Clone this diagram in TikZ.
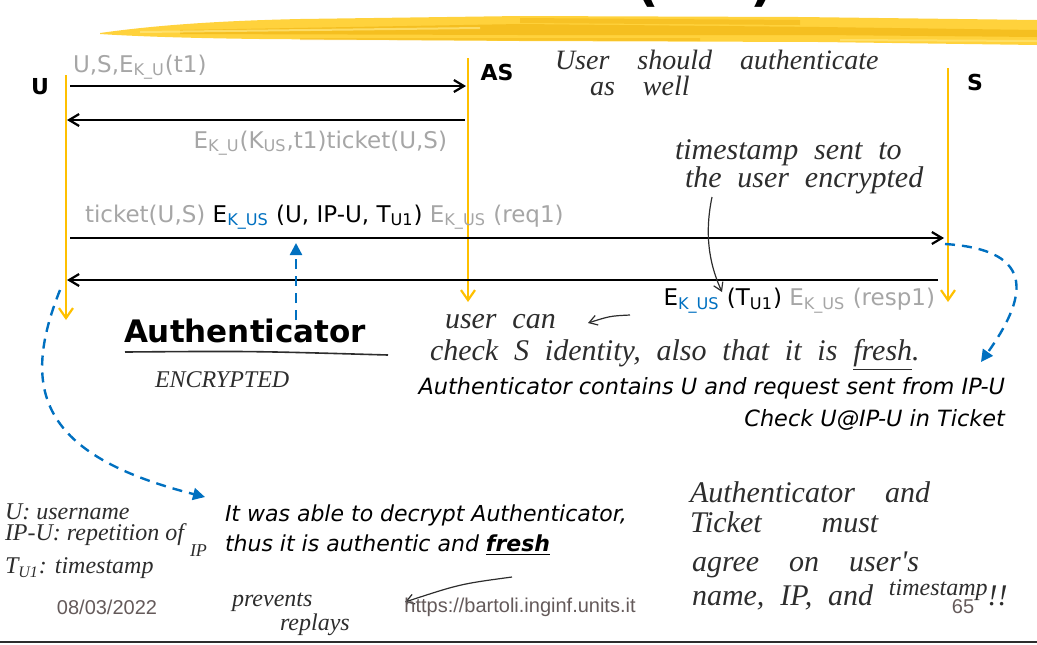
\documentclass[tikz,border=0pt]{standalone}
\usepackage{fontspec}
\setmainfont{DejaVu Sans}
\newfontfamily\hand{Liberation Serif}
\newfontfamily\footfont{Liberation Sans}
\usetikzlibrary{arrows.meta}

\definecolor{lifeyellow}{RGB}{255,192,0}
\definecolor{brushbase}{RGB}{255,210,60}
\definecolor{brushdark}{RGB}{238,176,10}
\definecolor{brushlight}{RGB}{255,232,130}
\definecolor{msggray}{RGB}{166,166,166}
\definecolor{keyblue}{RGB}{0,112,192}
\definecolor{ink}{RGB}{45,45,45}
\definecolor{footgray}{RGB}{100,90,90}

\newcommand\sbs[1]{\textsubscript{#1}}

\begin{document}
\begin{tikzpicture}[x=0.5pt,y=-0.5pt,
  every node/.style={inner sep=0pt, outer sep=0pt},
  lifeline/.style={draw=lifeyellow, line width=1.1pt, -{Straight Barb[length=5pt,width=7pt]}},
  msg/.style={draw=black, line width=1.1pt, -{Straight Barb[length=5pt,width=6pt]}},
  bluedash/.style={draw=keyblue, line width=1.2pt, dash pattern=on 5pt off 3.5pt, -{Triangle[length=6pt,width=6pt]}},
  inkarrow/.style={draw=ink, line width=0.6pt, -{Straight Barb[length=4pt,width=5pt]}},
  actor/.style={font=\bfseries\fontsize{11}{13}\selectfont},
  msglabel/.style={font=\fontsize{11.5}{14}\selectfont},
  note/.style={font=\itshape\fontsize{11.2}{14}\selectfont},
  handtext/.style={text=ink, font=\hand\itshape\fontsize{15}{18}\selectfont},
  smallhand/.style={text=ink, font=\hand\itshape\fontsize{12}{14}\selectfont},
  foot/.style={text=footgray, font=\footfont\fontsize{10}{12}\selectfont}]
\useasboundingbox (0,0) rectangle (1037,644);
\clip (0,0) rectangle (1037,644);

% title remnants above the brush stroke
\node[font=\bfseries\fontsize{26}{28}\selectfont, anchor=south] (lpar) at (647,7) {(};
\node[font=\bfseries\fontsize{26}{28}\selectfont, anchor=south] (rpar) at (762,7) {)};

% yellow brush stroke under the title
\fill[brushbase] (100,33) .. controls (150,26) and (210,21) .. (300,19) -- (520,16) -- (800,17) -- (1037,20)
  -- (1037,45) -- (820,42) -- (520,41) -- (260,39) .. controls (180,38) and (130,36) .. (100,34) -- cycle;
\fill[brushdark, opacity=0.55] (180,30) -- (520,24) -- (820,27) -- (1037,30) -- (1037,37) -- (820,35) -- (520,35) -- (180,34) -- cycle;
\fill[brushdark, opacity=0.45] (520,18) -- (800,20) -- (800,25) -- (520,23) -- cycle;
\fill[brushlight, opacity=0.7] (140,31) -- (480,27) -- (480,29) -- (140,33) -- cycle;
\fill[brushlight, opacity=0.6] (840,39) -- (1037,40) -- (1037,42) -- (840,41) -- cycle;
\fill[brushdark, opacity=0.4] (300,38) -- (700,38) -- (700,41) -- (300,40) -- cycle;

% actors
\node[actor] (U) at (40,87) {U};
\node[actor] (AS) at (497,72) {AS};
\node[actor] (S) at (975,82) {S};

% lifelines
\coordinate (U-top) at (66,75);   \coordinate (U-bot) at (66,320);
\coordinate (AS-top) at (468,58); \coordinate (AS-bot) at (468,302);
\coordinate (S-top) at (948,68);  \coordinate (S-bot) at (948,302);
\draw[lifeline] (U-top) -- (U-bot);
\draw[lifeline] (AS-top) -- (AS-bot);
\draw[lifeline] (S-top) -- (S-bot);

% messages
\coordinate (m1a) at (70,86);   \coordinate (m1b) at (466,86);
\coordinate (m2a) at (465,120); \coordinate (m2b) at (67,120);
\coordinate (m3a) at (70,238);  \coordinate (m3b) at (944,238);
\coordinate (m4a) at (938,280); \coordinate (m4b) at (67,280);
\draw[msg] (m1a) -- (m1b);
\draw[msg] (m2a) -- (m2b);
\draw[msg] (m3a) -- (m3b);
\draw[msg] (m4a) -- (m4b);

\node[msglabel, text=msggray, anchor=west] (l1) at (73,67) {U,S,E\sbs{K\_U}(t1)};
\node[msglabel, text=msggray, anchor=east] (l2) at (447,143) {E\sbs{K\_U}(K\sbs{US},t1)ticket(U,S)};
\node[msglabel, anchor=west] (l3) at (85,217)
  {{\color{msggray}ticket(U,S)} E\sbs{\color{keyblue}K\_US} (U, IP-U, T\sbs{U1}) {\color{msggray}E\sbs{K\_US} (req1)}};
\node[msglabel, anchor=east] (l4) at (935,301)
  {E\sbs{\color{keyblue}K\_US} (T\sbs{U1}) {\color{msggray}E\sbs{K\_US} (resp1)}};

% authenticator callout
\node[font=\bfseries\fontsize{15.5}{18}\selectfont, anchor=west] (auth) at (124,331) {Authenticator};
\coordinate (auth-foot) at (296,320);
\coordinate (auth-tip) at (296,243);
\draw[bluedash] (auth-foot) -- (auth-tip);
\coordinate (ul-a) at (125,352); \coordinate (ul-b) at (388,355);
\draw[ink, line width=0.8pt] (ul-a) .. controls (250,351) .. (ul-b);
\node[smallhand, anchor=west] (enc) at (155,380) {ENCRYPTED};

% curved dashed connectors
\coordinate (cU) at (60,290);
\coordinate (cU-end) at (205,497);
\draw[bluedash] (cU) .. controls (20,390) and (40,455) .. (cU-end);
\coordinate (cS) at (945,244);
\coordinate (cS-end) at (981,362);
\draw[bluedash] (cS) .. controls (1040,250) and (1025,300) .. (cS-end);

% notes in the sequence area
\node[handtext, anchor=west, font=\hand\itshape\fontsize{14}{16}\selectfont] (h1) at (555,60) {User\quad should\quad authenticate};
\node[handtext, anchor=west, font=\hand\itshape\fontsize{14}{16}\selectfont] (h2) at (590,86) {as\quad well};
\node[handtext, anchor=west] (h3) at (675,153) {timestamp\; sent\; to};
\node[handtext, anchor=west] (h4) at (685,180) {the\; user\; encrypted};
\coordinate (h4-foot) at (712,197);
\coordinate (h4-tip) at (722,292);
\draw[inkarrow] (h4-foot) .. controls (703,240) and (712,270) .. (h4-tip);

\node[handtext, anchor=west] (h5) at (445,322) {user\; can};
\coordinate (h5-from) at (630,315);
\coordinate (h5-to) at (588,323);
\draw[inkarrow] (h5-from) .. controls (610,316) .. (h5-to);
\node[handtext, anchor=west] (h6) at (430,355) {check\; S\; identity,\; also\; that\; it\; is\; \underline{fresh}.};

\node[note, anchor=east] (n1) at (1005,388) {Authenticator contains U and request sent from IP-U};
\node[note, anchor=east] (n2) at (1005,420) {Check U@IP-U in Ticket};

% lower notes
\node[smallhand, anchor=west] (g1) at (5,512) {U: username};
\node[smallhand, anchor=west] (g2) at (5,535) {IP-U: repetition of};
\node[smallhand, anchor=west, font=\hand\itshape\fontsize{9}{10}\selectfont] (g3) at (190,551) {IP};
\node[smallhand, anchor=west] (g4) at (5,568) {T\sbs{U1}: timestamp};

\node[note, anchor=west, font=\itshape\fontsize{11}{14}\selectfont] (f1) at (225,515) {It was able to decrypt Authenticator,};
\node[note, anchor=west, font=\itshape\fontsize{11}{14}\selectfont] (f2) at (225,545) {thus it is authentic and \underline{\textbf{fresh}}};
\coordinate (f-from) at (512,577);
\coordinate (f-to) at (405,602);
\draw[inkarrow] (f-from) .. controls (460,584) .. (f-to);
\node[smallhand, anchor=west] (p1) at (232,602) {prevents};
\node[smallhand, anchor=west] (p2) at (280,625) {replays};

\node[handtext, anchor=west] (r1) at (690,492) {Authenticator\quad and};
\node[handtext, anchor=west] (r2) at (690,522) {Ticket\qquad must};
\node[handtext, anchor=west] (r3) at (692,565) {agree\quad on\quad user's};
\node[handtext, anchor=west] (r4) at (692,595) {name,\; IP,\; and\; \raisebox{5pt}{\fontsize{12}{14}\selectfont timestamp}!!};

% footer
\node[foot] (date) at (107,607) {08/03/2022};
\node[foot] (url) at (520,607) {https://bartoli.inginf.units.it};
\node[foot] (page) at (963,607) {65};
\coordinate (bl-a) at (0,642); \coordinate (bl-b) at (1037,642);
\draw[ink, line width=1pt] (bl-a) -- (bl-b);
\end{tikzpicture}
\end{document}
